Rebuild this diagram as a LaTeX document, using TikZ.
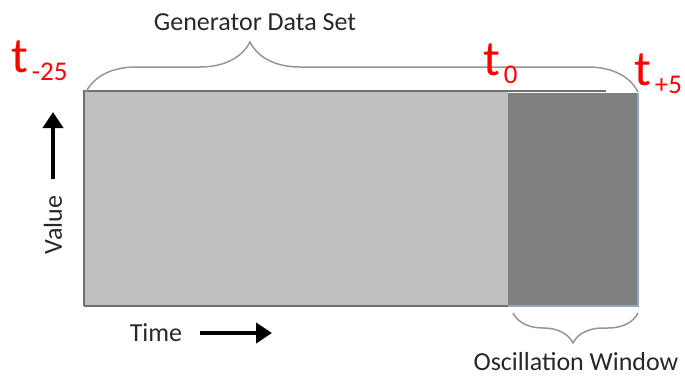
\documentclass[tikz,border=0pt]{standalone}
\usepackage{fontspec}
\setmainfont{Carlito}
\usetikzlibrary{arrows.meta,decorations.pathreplacing}

\definecolor{lightfill}{RGB}{191,191,191}
\definecolor{darkfill}{RGB}{127,127,127}
\definecolor{edgegray}{RGB}{112,112,112}
\definecolor{edgeblue}{RGB}{150,165,185}
\definecolor{bracegray}{RGB}{150,150,150}
\definecolor{textgray}{RGB}{40,40,40}

\tikzstyle{caption} = [text=textgray, font=\fontsize{26}{26}\selectfont, inner sep=0pt]
\tikzstyle{tmark} = [text=red, font=\fontsize{50}{50}\selectfont,
    inner sep=0pt, anchor=base west]
\tikzstyle{bracket} = [draw=bracegray, line width=1.5pt, decorate]
\tikzstyle{bigarrow} = [draw, line width=4.5pt, -{Triangle[length=16pt,width=20pt]}]

\newcommand{\tsub}[1]{\hspace{4pt}\raisebox{-8pt}{\fontsize{27}{27}\selectfont #1}}

\begin{document}
\begin{tikzpicture}[x=1pt, y=-1pt]
\useasboundingbox (0,0) rectangle (685,378);

    % data blocks
\fill[lightfill] (84,91) rectangle (508,306);
\fill[darkfill] (508,93) rectangle (638,306);
\draw[edgegray, line width=2pt] (84,306) -- (84,91) -- (606,91);
\draw[edgegray, line width=1.5pt] (84,306) -- (508,306);
\draw[edgeblue, line width=1.2pt] (508,306) -- (638,306) -- (638,93);

    % braces and their captions
\draw[bracket, decoration={brace, amplitude=50pt, aspect=0.297}] (86,92) -- (638,92);
\draw[bracket, decoration={brace, amplitude=30pt, aspect=0.52}] (638,313) -- (513,313);
\node[caption] (gendata) at (255,22) {Generator Data Set};
\node[caption] (oscwin) at (576,362) {Oscillation Window};

    % time marks
\node[tmark] (tstart) at (11,72) {t\tsub{-25}};
\node[tmark] (tzero) at (483,75) {t\tsub{0}};
\node[tmark] (tend) at (634,85) {t\tsub{+5}};

    % axes
\node[caption, rotate=90] (value) at (53,225) {Value};
\node[caption] (time) at (156,333) {Time};
\coordinate (vtip) at (53,112);
\coordinate (ttip) at (272,333);
\path [bigarrow] ([yshift=17pt]value.east) -- (vtip);
\path [bigarrow] ([xshift=18pt]time.east) -- (ttip);

\end{tikzpicture}
\end{document}
